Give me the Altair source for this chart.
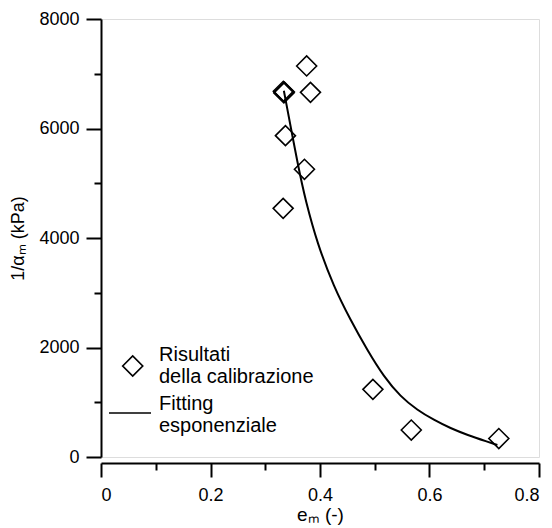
import altair as alt
import pandas as pd

# Calibration results (diamonds)
pts_x = [0.3756, 0.333, 0.335, 0.334, 0.3826, 0.3369, 0.3716, 0.3327, 0.4966, 0.5667, 0.7266]
pts_y = [7142, 6680, 6665, 6650, 6660, 5869, 5255, 4542, 1236, 493, 337]

# Exponential fitting curve
fit_x = [0.334, 0.3613, 0.3735, 0.3949, 0.4252, 0.4558, 0.4863, 0.5166, 0.5472,
         0.5777, 0.6080, 0.6385, 0.6691, 0.7057, 0.724]
fit_y = [6690, 5242, 4694, 3903, 3110, 2502, 1954, 1467, 1101,
         858, 676, 524, 402, 279, 219]

series_names = ["Risultati|della calibrazione", "Fitting|esponenziale"]
x_major = [0, 0.2, 0.4, 0.6, 0.8]
x_minor = [0.1, 0.3, 0.5, 0.7]
y_major = [0, 2000, 4000, 6000, 8000]
y_minor = [1000, 3000, 5000, 7000]

pts = pd.DataFrame({"e": pts_x, "a": pts_y, "s": [series_names[0]] * len(pts_x)})
fit = pd.DataFrame({"e": fit_x, "a": fit_y})

FONT = "Liberation Sans"
xs = alt.Scale(domain=[0, 0.8], nice=False, zero=False)
ys = alt.Scale(domain=[0, 8000], nice=False, zero=False)

points = alt.Chart(pts).mark_point(
    shape="diamond", filled=False, size=400, strokeWidth=1.6, color="black", opacity=1
).encode(
    x=alt.X("e:Q", scale=xs, axis=alt.Axis(
        values=x_major, format="~g", orient="bottom", offset=6, tickSize=14,
        tickWidth=2, domainWidth=2, domainColor="black", tickColor="black",
        labelFont=FONT, labelFontSize=18, labelColor="black", labelPadding=9,
        title="eₘ (-)", titleFont=FONT, titleFontSize=19, titleFontWeight="normal",
        titleColor="black", titlePadding=1, grid=False)),
    y=alt.Y("a:Q", scale=ys, axis=alt.Axis(
        values=y_major, format="d", orient="left", tickSize=15,
        tickWidth=2, domainWidth=2, domainColor="black", tickColor="black",
        labelFont=FONT, labelFontSize=18, labelColor="black", labelPadding=7,
        title="1/αₘ (kPa)", titleFont=FONT, titleFontSize=18, titleFontWeight="normal",
        titleColor="black", titlePadding=11, grid=False)),
)

curve = alt.Chart(fit).mark_line(color="black", strokeWidth=2, interpolate="basis").encode(
    x=alt.X("e:Q", scale=xs, axis=alt.Axis(
        values=x_minor, orient="bottom", offset=6, tickSize=7, tickWidth=2,
        tickColor="black", labels=False, domain=False, title=None, grid=False)),
    y=alt.Y("a:Q", scale=ys, axis=alt.Axis(
        values=y_minor, orient="left", tickSize=7, tickWidth=2,
        tickColor="black", labels=False, domain=False, title=None, grid=False)),
)

legend_layer = alt.Chart(pts).mark_point(filled=False, size=400, opacity=0).encode(
    x=alt.X("e:Q", scale=xs, axis=None),
    y=alt.Y("a:Q", scale=ys, axis=None),
    shape=alt.Shape("s:N", scale=alt.Scale(
        domain=series_names,
        range=["M-0.73,1.1L0.27,0.1L1.27,1.1L0.27,2.1Z", "M-2.1,0.9L2.1,0.9"]),
        legend=alt.Legend(
            orient="none", legendX=18, legendY=325, title=None,
            labelExpr="split(datum.label, '|')",
            symbolSize=400, symbolStrokeWidth=1.7, symbolOpacity=1,
            symbolFillColor="transparent", symbolStrokeColor="black",
            labelFont=FONT, labelFontSize=20, labelColor="black",
            labelOffset=18, rowPadding=6, padding=0, labelLimit=400)),
)

chart = alt.layer(points, curve, legend_layer).resolve_axis(
    x="independent", y="independent"
).properties(
    width=438, height=438,
    autosize=alt.AutoSizeParams(type="none"),
    padding={"left": 101, "top": 19, "right": 13, "bottom": 71},
).configure_view(stroke=None).configure(background="white")

chart.save("out.html", embed_options={"renderer": "svg", "actions": False})
